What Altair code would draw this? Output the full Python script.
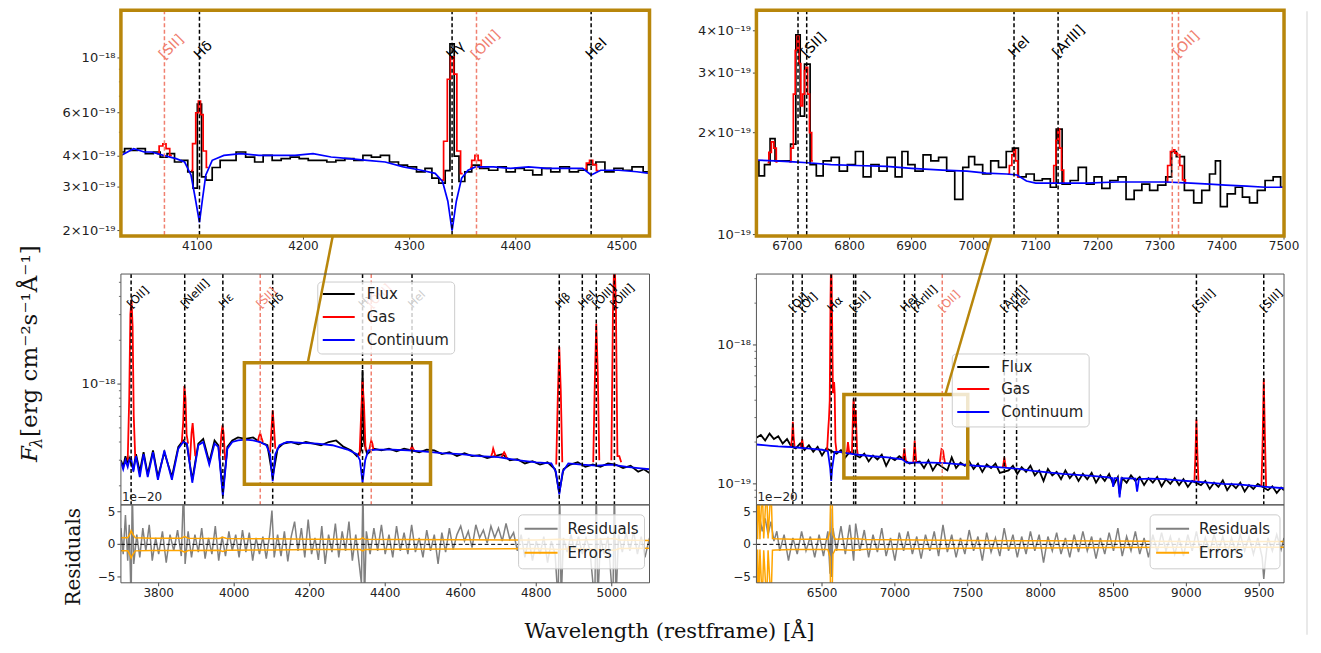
import math
import altair as alt
import pandas as pd

UNIT = 1e-19  # flux arrays below are in units of 1e-19 erg/cm2/s/A

# ---------------- LEFT INSET (4028-4526 A) ----------------
LI_FLUX_WL = [4028,4035,4040,4047,4055,4062,4068,4075,4082,4088,4094,4098,4102,4106,4110,4118,4125,4132,4141,4150,
              4158,4166,4175,4183,4192,4200,4209,4218,4226,4235,4243,4252,4260,4268,4277,4285,4294,4302,4311,4318,
              4324,4331,4336,4340,4344,4349,4355,4362,4370,4379,4387,4395,4404,4412,4420,4429,4437,4446,4455,4463,
              4471,4480,4488,4497,4505,4514,4526]
LI_FLUX_F = [4.16,4.29,4.22,4.29,4.10,4.16,3.97,4.10,3.79,3.85,3.46,2.97,6.5,3.3,3.2,3.6,3.85,3.85,4.16,3.97,
             3.79,4.03,3.85,3.91,3.97,3.91,3.85,3.85,3.79,3.85,3.91,3.85,4.03,3.97,4.03,3.79,3.68,3.62,3.46,3.57,
             3.26,3.11,3.5,11.4,4.0,3.16,3.46,3.68,3.57,3.51,3.62,3.46,3.57,3.51,3.36,3.57,3.46,3.62,3.46,3.51,
             3.7,3.79,3.46,3.57,3.51,3.62,3.46]
LI_CONT_WL = [4028,4040,4050,4057,4068,4080,4088,4094,4098,4102,4105,4108,4114,4125,4141,4158,4175,4192,4209,4226,
              4243,4260,4277,4294,4311,4324,4331,4336,4340,4344,4349,4355,4362,4379,4395,4412,4429,4446,4463,4471,
              4480,4497,4514,4526]
LI_CONT_F = [4.03,4.29,4.16,4.16,4.03,3.91,3.79,3.36,2.71,2.16,2.71,3.36,3.85,4.03,4.10,4.03,4.03,4.03,4.10,3.97,
             3.91,3.85,3.79,3.62,3.51,3.41,3.16,2.63,2.0,2.63,3.26,3.51,3.62,3.62,3.57,3.62,3.57,3.57,3.57,3.36,
             3.51,3.51,3.46,3.41]
LI_GAS_WL = [[4062,4066,4069,4072,4076],[4094,4097,4100,4102,4104,4107,4110],[4330,4334,4337,4340,4343,4346,4350],
             [4357,4360,4363,4366,4369],[4465,4468,4471,4474,4478]]
LI_GAS_F = [[4.10,4.40,4.49,4.29,4.03],[3.5,4.5,6.0,6.68,5.9,4.2,3.6],[3.2,4.6,8.2,10.1,8.6,4.2,3.4],
            [3.6,3.85,4.03,3.85,3.6],[3.55,3.75,3.85,3.7,3.5]]
LI_LINES = [4069, 4102, 4340, 4363, 4471]
LI_LCOL = ["s", "k", "k", "s", "k"]
LI_LLAB = ["[SII]", "Hδ", "Hγ", "[OIII]", "HeI"]

# ---------------- RIGHT INSET (6650-7500 A) ----------------
RI_FLUX_WL = [6650,6658,6668,6676,6684,6700,6710,6717,6724,6731,6742,6751,6764,6777,6790,6803,6816,6828,6841,6854,
              6867,6880,6889,6899,6912,6925,6937,6950,6963,6976,6989,6995,7008,7021,7034,7046,7059,7066,7078,7091,
              7104,7117,7130,7136,7149,7162,7175,7188,7200,7213,7226,7239,7252,7265,7277,7290,7303,7316,7322,7331,
              7348,7361,7374,7386,7393,7402,7415,7428,7438,7451,7463,7476,7489,7500]
RI_FLUX_F = [1.65,1.49,1.61,1.92,1.65,1.65,1.85,3.89,2.24,3.19,1.61,1.49,1.65,1.69,1.54,1.61,1.76,1.48,1.61,1.54,
             1.69,1.48,1.76,1.61,1.54,1.72,1.65,1.69,1.54,1.27,1.58,1.70,1.61,1.51,1.65,1.58,1.76,1.80,1.48,1.51,
             1.445,1.46,1.38,2.05,1.41,1.445,1.58,1.41,1.48,1.37,1.445,1.48,1.27,1.35,1.41,1.35,1.40,1.48,1.76,1.70,
             1.35,1.24,1.35,1.51,1.65,1.21,1.32,1.38,1.29,1.24,1.35,1.445,1.48,1.38]
RI_CONT_WL = [6650,6680,6710,6732,6770,6810,6860,6900,6950,6989,7020,7053,7070,7085,7100,7150,7181,7230,7270,7310,
              7350,7380,7406,7440,7470,7500]
RI_CONT_F = [1.66,1.65,1.64,1.63,1.61,1.60,1.59,1.57,1.55,1.54,1.52,1.51,1.50,1.44,1.42,1.42,1.42,1.43,1.43,1.43,
             1.42,1.41,1.40,1.39,1.38,1.38]
RI_GAS_WL = [[6668,6672,6676,6680,6684],[6703,6708,6711,6714,6717,6720,6723,6726,6729,6731,6734,6737,6741],
             [7055,7060,7063,7066,7069,7073],[7127,7131,7134,7137,7140,7143,7147],[7310,7315,7319,7322,7326,7330,7334,7339,7343]]
RI_GAS_F = [[1.63,1.75,1.88,1.80,1.64],[1.64,1.8,2.6,3.5,3.85,3.2,2.4,2.6,3.05,3.12,2.6,2.0,1.65],
            [1.51,1.6,1.72,1.78,1.65,1.48],[1.42,1.6,1.9,2.05,1.8,1.55,1.42],[1.43,1.6,1.76,1.78,1.74,1.72,1.6,1.45,1.42]]
RI_LINES = [6717, 6731, 7065, 7136, 7320, 7330]
RI_LCOL = ["k", "k", "k", "k", "s", "s"]
RI_LLAB = ["", "[SII]", "HeI", "[ArIII]", "", "[OII]"]

# ---------------- MAIN LEFT (3700-5100 A) ----------------
ML_FLUX_WL = [3700,3706,3712,3718,3722,3733,3740,3750,3760,3771,3785,3798,3815,3835,3852,3865,3875,3889,3905,3918,
              3934,3948,3958,3970,3982,3995,4010,4030,4050,4068,4088,4102,4115,4130,4150,4170,4190,4210,4230,4250,
              4270,4290,4310,4325,4336,4340,4344,4352,4370,4390,4410,4430,4450,4470,4490,4510,4530,4550,4570,4590,
              4610,4630,4650,4670,4690,4710,4730,4750,4770,4790,4810,4830,4850,4861,4872,4890,4910,4930,4950,4970,
              4990,5010,5030,5050,5070,5085,5100]
ML_FLUX_F = [3.0,2.7,3.2,2.8,3.1,2.6,3.3,2.5,3.4,2.4,3.5,2.3,3.4,2.3,3.7,4.1,3.8,2.2,3.9,4.2,
             2.9,4.1,3.8,1.8,3.7,4.1,4.3,4.2,4.3,4.0,3.8,2.3,3.6,3.9,4.0,3.85,4.0,3.9,3.8,4.0,
             4.1,3.7,3.5,3.2,3.5,12.5,4.0,3.3,3.6,3.5,3.6,3.45,3.6,3.5,3.4,3.55,3.5,3.3,3.4,3.2,
             3.35,3.2,3.25,3.1,3.2,3.3,3.0,3.05,2.85,2.95,2.8,2.9,2.6,1.8,2.6,2.8,2.9,2.7,2.8,2.7,
             2.85,2.8,2.65,2.75,2.5,2.6,2.45]
ML_CONT_WL = [3700,3706,3712,3718,3722,3727,3733,3740,3750,3760,3771,3785,3798,3815,3835,3852,3865,3875,3889,3905,
              3918,3934,3948,3958,3970,3982,3995,4010,4030,4050,4068,4085,4095,4102,4109,4120,4140,4180,4220,4260,
              4300,4325,4333,4340,4347,4355,4380,4420,4460,4500,4550,4600,4650,4700,4750,4800,4840,4852,4861,4870,
              4885,4920,4960,5000,5040,5070,5100]
ML_CONT_F = [2.9,2.6,3.0,2.7,3.0,3.1,2.5,3.2,2.3,3.3,2.3,3.4,2.2,3.5,2.2,3.6,4.0,3.9,2.1,3.8,
             4.0,2.8,3.9,3.7,1.7,3.6,4.0,4.1,4.15,4.1,4.0,3.8,3.3,2.15,3.3,3.8,4.0,3.95,3.9,3.8,
             3.55,3.3,3.0,2.1,3.0,3.5,3.55,3.55,3.5,3.45,3.35,3.3,3.2,3.15,3.0,2.9,2.85,2.5,1.75,2.5,
             2.85,2.8,2.75,2.8,2.7,2.65,2.6]
ML_GAS_WL = [[3718,3722,3725,3728,3731,3734,3738],[3861,3865,3868,3871,3874,3878],[3883,3887,3890,3893,3897],
             [3962,3966,3969,3972,3976],[4062,4066,4069,4072,4076],[4095,4099,4102,4105,4109],
             [4332,4336,4340,4344,4348],[4358,4361,4363,4366,4369],[4466,4469,4471,4474,4477],
             [4680,4684,4686,4689,4693],[4708,4712,4715,4718,4722],[4853,4857,4861,4865,4869],
             [4951,4955,4959,4963,4967],[4999,5003,5007,5011,5015,5020,5025]]
ML_GAS_F = [[3.0,8,30,38,25,6,3.1],[3.9,5.5,9.7,8.0,4.5,3.9],[3.0,4.6,5.4,4.3,3.2],
            [3.2,4.5,5.2,4.6,3.0],[4.0,4.4,4.6,4.3,4.0],[3.4,5.0,6.6,5.2,3.6],
            [3.2,6.0,10.5,7.0,3.5],[3.55,3.9,4.1,3.9,3.55],[3.5,3.65,3.75,3.6,3.5],
            [3.15,3.4,3.6,3.4,3.15],[3.12,3.3,3.4,3.3,3.1],[2.8,8,18,9,2.9],
            [2.9,10,26,12,3.0],[3.0,30,80,35,3.2,3.2,2.9]]
ML_LINES = [3727, 3869, 3970, 4069, 4102, 4340, 4363, 4471, 4861, 4922, 4959, 5007]
ML_LCOL = ["k", "k", "k", "s", "k", "k", "s", "k", "k", "k", "k", "k"]
ML_LLAB = ["[OII]", "[NeIII]", "Hε", "[SII]", "Hδ", "Hγ", "[OIII]", "HeI", "Hβ", "HeI", "[OIII]", "[OIII]"]
ML_RECT = [4027, 4520, 2.05e-19, 1.40e-18]
ML_CONN = [4195, 1.40e-18, 4261]

# ---------------- MAIN RIGHT (6050-9670 A) ----------------
MR_FLUX_WL = [6050,6080,6110,6140,6170,6200,6230,6260,6290,6320,6350,6380,6410,6440,6470,6500,6530,6600,6630,6660,
              6690,6760,6790,6820,6850,6880,6910,6940,6970,7000,7030,7100,7170,7200,7230,7260,7290,7360,7390,7420,
              7450,7480,7510,7540,7570,7600,7630,7660,7690,7720,7780,7810,7840,7870,7900,7930,7960,7990,8020,8050,
              8080,8110,8140,8170,8200,8230,8260,8290,8320,8350,8380,8410,8440,8470,8500,8530,8542,8560,8590,8620,
              8650,8680,8710,8740,8770,8800,8830,8860,8890,8920,8950,8980,9010,9040,9100,9130,9160,9190,9220,9250,
              9280,9310,9340,9370,9400,9430,9460,9490,9560,9590,9620,9650,9670]
MR_FLUX_F = [2.15,2.25,2.05,2.30,2.10,2.20,1.95,2.10,1.85,1.80,1.95,1.75,1.90,1.70,1.85,1.60,1.80,1.65,1.75,1.55,
             1.70,1.55,1.65,1.45,1.60,1.50,1.62,1.35,1.55,1.48,1.58,1.40,1.45,1.30,1.48,1.25,1.40,1.25,1.55,1.30,
             1.42,1.35,1.45,1.28,1.40,1.22,1.38,1.30,1.40,1.20,1.25,1.35,1.18,1.32,1.22,1.35,1.15,1.25,1.05,1.28,
             1.15,1.22,1.08,1.25,1.10,1.20,1.05,1.18,1.08,1.20,1.02,1.15,1.05,1.18,0.98,1.12,0.85,1.10,1.02,1.15,
             1.05,1.12,0.98,1.10,1.02,1.12,0.96,1.08,1.00,1.10,0.98,1.08,0.95,1.05,0.98,1.05,0.92,1.02,0.95,1.06,
             0.90,1.00,0.93,1.02,0.88,0.98,0.92,1.00,0.90,0.96,0.86,0.94,0.90]
MR_CONT_WL = [6050,6100,6150,6200,6250,6300,6350,6400,6450,6500,6540,6556,6563,6570,6586,6620,6680,6750,6850,6950,
              7050,7080,7150,7250,7350,7450,7550,7650,7750,7850,7950,8050,8150,8250,8350,8450,8490,8498,8506,8530,
              8542,8554,8650,8662,8674,8750,8850,8950,9050,9150,9250,9350,9450,9550,9670]
MR_CONT_F = [1.92,1.90,1.88,1.86,1.85,1.84,1.82,1.80,1.78,1.76,1.72,1.3,1.05,1.3,1.70,1.70,1.66,1.62,1.58,1.55,
             1.50,1.42,1.42,1.42,1.41,1.38,1.35,1.33,1.31,1.28,1.24,1.21,1.18,1.16,1.14,1.12,1.10,0.95,1.10,1.10,
             0.80,1.10,1.09,0.88,1.08,1.09,1.08,1.06,1.04,1.02,1.00,0.99,0.97,0.95,0.93]
MR_GAS_WL = [[6288,6295,6300,6305,6312],[6355,6360,6364,6368,6373],
             [6535,6543,6548,6553,6558,6563,6568,6575,6580,6583,6587,6592,6600],[6670,6675,6678,6682,6687],
             [6705,6710,6714,6717,6721,6724,6727,6731,6735,6740,6745],[7055,7060,7065,7070,7076],
             [7126,7131,7136,7141,7147],[7308,7314,7320,7326,7331,7337,7344],[7740,7746,7751,7756,7762],
             [9055,9062,9069,9076,9083],[9515,9523,9531,9539,9547]]
MR_GAS_F = [[1.85,2.2,2.8,2.2,1.84],[1.82,1.95,2.1,1.95,1.82],
            [1.74,2.5,3.0,4.0,20,50,20,4.5,5.0,5.4,4.5,2.0,1.70],[1.67,1.85,2.0,1.85,1.66],
            [1.64,2.5,3.6,4.1,3.4,2.6,3.1,3.4,2.6,1.8,1.62],[1.50,1.62,1.80,1.62,1.45],
            [1.42,1.7,2.05,1.7,1.42],[1.42,1.6,1.78,1.76,1.72,1.55,1.41],[1.31,1.42,1.55,1.42,1.31],
            [1.04,1.6,2.9,1.6,1.04],[0.95,2.0,5.7,2.2,0.95]]
MR_LINES = [6300, 6364, 6563, 6717, 6731, 7065, 7136, 7325, 7751, 7835, 9069, 9531]
MR_LCOL = ["k", "k", "k", "k", "k", "k", "k", "s", "k", "k", "k", "k"]
MR_LLAB = ["[OI]", "[OI]", "Hα", "[SII]", "", "HeI", "[ArIII]", "[OII]", "[ArIII]", "HeI", "[SIII]", "[SIII]"]
MR_RECT = [6650, 7500, 1.1e-19, 4.4e-19]
MR_CONN = [7346, 4.4e-19, 7662]

# ---------------- RESIDUALS (units of 1e-20) ----------------
RL_WL = [3700,3706,3712,3718,3722,3727,3730,3734,3742,3750,3758,3766,3775,3783,3792,3800,3810,3820,3830,3840,
         3850,3860,3866,3870,3878,3887,3896,3905,3914,3923,3932,3941,3950,3959,3968,3977,3986,3995,4004,4013,
         4022,4031,4040,4049,4058,4067,4076,4085,4094,4100,4106,4115,4124,4133,4142,4151,4160,4169,4178,4187,
         4196,4205,4214,4223,4232,4241,4250,4259,4268,4277,4286,4295,4304,4313,4322,4331,4337,4341,4345,4350,
         4360,4370,4380,4390,4400,4410,4420,4430,4440,4450,4460,4470,4480,4490,4500,4510,4520,4530,4540,4550,
         4560,4570,4580,4590,4600,4610,4620,4630,4640,4650,4660,4670,4680,4690,4700,4710,4720,4730,4740,4750,
         4760,4770,4780,4790,4800,4810,4820,4830,4840,4850,4858,4862,4866,4872,4882,4892,4902,4912,4922,4932,
         4942,4955,4959,4963,4970,4980,4990,5003,5007,5011,5018,5028,5038,5048,5058,5068,5078,5088,5100]
RL_R = [2.5,-1.5,4.5,-2.5,3.0,-9,9,-3,1.5,-2.0,2.5,-1.0,3.0,-2.5,1.0,-1.5,2.0,-2.8,1.5,-1.0,
        2.2,-1.8,9,-3,2.0,-2.0,1.5,-1.2,2.5,-2.2,1.0,-1.5,2.8,-2.5,1.2,-1.8,2.0,-1.0,1.5,-2.0,
        2.2,-1.2,1.8,-2.5,1.0,-1.5,1.2,-2.2,1.5,5.2,-2.0,1.5,-1.8,2.0,-2.6,1.2,3.5,-1.0,2.5,-2.0,
        3.8,-1.5,1.0,-2.4,2.8,-3.0,1.5,-1.2,3.2,-2.0,2.0,-1.0,3.5,-2.5,1.5,-3.0,-6,9,-9,2.0,
        -1.5,2.5,-1.0,3.0,-1.5,1.5,-2.0,2.8,-1.0,1.8,-1.5,3.0,-1.2,1.0,-2.0,2.2,-1.0,1.5,-3.0,1.8,
        -1.2,2.5,-0.8,1.5,2.8,0.5,2.0,-0.5,3.0,1.0,2.2,0.2,2.8,1.0,2.5,0.5,3.2,0.8,1.8,-1.0,
        1.5,-2.0,1.0,-2.5,0.5,-1.5,1.2,-2.8,0.5,-1.5,-9,9,-9,1.0,-1.2,1.5,-1.0,1.2,-1.5,1.0,
        -0.8,-9,9,-9,1.0,-1.5,1.2,-9,9,-9,1.5,-1.2,1.8,-1.0,2.0,-1.5,1.2,-2.0,1.0]
RL_ERR_WL = [3700,3718,3724,3727,3731,3738,3780,3860,3869,3878,3960,3970,3980,4100,4200,4334,4340,4346,4450,4600,
             4800,4861,4900,4959,5007,5020,5100]
RL_ERR = [1.0,1.0,1.6,2.1,1.6,1.0,0.95,0.95,1.2,0.95,0.9,1.1,0.9,0.85,0.8,0.8,1.0,0.8,0.75,0.7,
          0.65,0.8,0.65,0.75,0.9,0.65,0.6]
RR_WL = [6050,6070,6090,6110,6130,6150,6170,6190,6210,6240,6270,6300,6330,6360,6390,6420,6450,6480,6510,6540,
         6555,6560,6566,6575,6600,6630,6660,6690,6717,6731,6760,6790,6820,6850,6880,6910,6940,6970,7000,7030,
         7060,7090,7120,7150,7180,7210,7240,7270,7300,7330,7360,7390,7420,7450,7480,7510,7540,7570,7600,7630,
         7660,7690,7720,7750,7780,7810,7840,7870,7900,7930,7960,7990,8020,8050,8080,8110,8140,8170,8200,8230,
         8260,8290,8320,8350,8380,8410,8440,8470,8500,8530,8560,8590,8620,8650,8680,8710,8740,8770,8800,8830,
         8860,8890,8920,8950,8980,9010,9040,9069,9100,9130,9160,9190,9220,9250,9280,9310,9340,9370,9400,9430,
         9460,9490,9520,9531,9540,9560,9590,9620,9650,9670]
RR_R = [3.0,4.5,2.0,4.0,1.5,3.5,0.5,2.0,-1.0,1.5,-2.5,1.0,-1.5,2.0,-1.0,1.2,-2.0,1.5,-1.8,2.0,
        -4.5,5.5,-5.0,2.5,-1.0,2.8,-1.5,3.0,-2.5,3.2,-1.0,2.2,-2.0,1.5,-1.2,2.5,-1.8,1.0,-2.5,1.8,
        -1.0,2.0,-1.5,1.2,-2.2,1.5,-1.0,2.0,-1.8,3.0,-1.2,1.5,-2.0,1.0,-1.5,2.2,-1.0,1.2,-2.5,1.8,
        -1.2,1.0,-1.8,2.5,-1.0,1.5,-2.0,1.2,-1.5,2.0,-1.0,1.5,-2.8,1.2,-1.0,1.8,-1.5,1.0,-2.0,1.5,
        -1.2,2.0,-1.0,1.2,-2.2,1.0,-1.5,1.8,-1.0,2.5,-1.8,1.2,-1.0,2.0,-1.5,1.0,-2.0,1.5,-1.2,1.8,
        -1.0,1.2,-1.5,1.0,-1.8,1.5,-1.0,2.0,-1.5,1.0,-1.2,1.5,-1.0,1.2,-1.5,1.0,-1.2,1.5,-1.0,1.2,
        -1.5,1.0,-2.0,-5.3,-3.0,1.0,-1.0,1.5,-0.8,1.0]
RR_ERR_WL = [6050,6058,6066,6074,6090,6100,6120,6130,6150,6160,6180,6300,6540,6555,6560,6568,6575,6590,6717,6800,
             7000,7500,8000,8500,9000,9500,9670]
RR_ERR = [9,0.8,9,0.8,9,0.9,9,0.9,9,0.9,0.85,0.8,0.8,2.0,9,9,1.5,0.8,0.9,0.75,
          0.7,0.6,0.55,0.5,0.45,0.45,0.45]

# ---------------- tick values / labels / legend text ----------------
LI_YT = [2e-19, 3e-19, 4e-19, 6e-19, 1e-18]
LI_YL = ["2×10⁻¹⁹", "3×10⁻¹⁹", "4×10⁻¹⁹", "6×10⁻¹⁹", "10⁻¹⁸"]
LI_YM = [5e-19, 7e-19, 8e-19, 9e-19]
RI_YT = [1e-19, 2e-19, 3e-19, 4e-19]
RI_YL = ["10⁻¹⁹", "2×10⁻¹⁹", "3×10⁻¹⁹", "4×10⁻¹⁹"]
ML_YT = [1e-18]
ML_YL = ["10⁻¹⁸"]
ML_YM = [2e-19, 3e-19, 4e-19, 5e-19, 6e-19, 7e-19, 8e-19, 9e-19, 2e-18, 3e-18, 4e-18, 5e-18]
MR_YT = [1e-19, 1e-18]
MR_YL = ["10⁻¹⁹", "10⁻¹⁸"]
MR_YM = [8e-20, 9e-20, 2e-19, 3e-19, 4e-19, 5e-19, 6e-19, 7e-19, 8e-19, 9e-19, 2e-18, 3e-18]
LI_XT = [4100, 4200, 4300, 4400, 4500]
RI_XT = [6700, 6800, 6900, 7000, 7100, 7200, 7300, 7400, 7500]
RL_XT = [3800, 4000, 4200, 4400, 4600, 4800, 5000]
RR_XT = [6500, 7000, 7500, 8000, 8500, 9000, 9500]
RES_YT = [-5, 0, 5]
RES_YL = ["−5", "0", "5"]
LEG_SPEC = ["Flux", "Gas", "Continuum"]
LEG_SPEC_COL = ["black", "red", "blue"]
LEG_RES = ["Residuals", "Errors"]
LEG_RES_COL = ["gray", "orange"]

# ---------------- styling ----------------
ONE = pd.DataFrame({"k": [0]})
FONT = "DejaVu Sans"
SERIF = "DejaVu Serif"
GOLD = "#b8860b"
FRAME = "#555555"
SALMON = "#f08070"
TICK = "#333333"
LABEL = "#222222"
CMAP = {"k": "black", "s": SALMON}
WL_, WR_ = 529, 528
H_IN, GAP, H_MAIN, H_RES = 226, 38, 231, 78


def frame(W, H, color, width):
    return alt.Chart(ONE).mark_rect(fillOpacity=0, stroke=color, strokeWidth=width).encode(
        x=alt.value(0), x2=alt.value(W), y=alt.value(0), y2=alt.value(H))


def y_ticks(ys, field_vals, labs, size, minor=None):
    df = pd.DataFrame({"v": field_vals, "t": labs})
    out = [
        alt.Chart(df).mark_rule(color=TICK, strokeWidth=0.9).encode(
            y=alt.Y("v:Q", scale=ys, axis=None), x=alt.value(-3.5), x2=alt.value(0)),
        alt.Chart(df).mark_text(align="right", baseline="middle", fontSize=size, font=FONT,
                                color=LABEL).encode(
            y=alt.Y("v:Q", scale=ys, axis=None), x=alt.value(-5.5), text="t:N"),
    ]
    if minor:
        out.append(alt.Chart(pd.DataFrame({"v": minor})).mark_rule(color=TICK, strokeWidth=0.7).encode(
            y=alt.Y("v:Q", scale=ys, axis=None), x=alt.value(-2), x2=alt.value(0)))
    return out


def x_ticks(xs, vals, H, size):
    df = pd.DataFrame({"v": vals, "t": [str(v) for v in vals]})
    return [
        alt.Chart(df).mark_rule(color=TICK, strokeWidth=0.9).encode(
            x=alt.X("v:Q", scale=xs, axis=None), y=alt.value(H), y2=alt.value(H + 3.5)),
        alt.Chart(df).mark_text(align="center", baseline="top", fontSize=size, font=FONT,
                                color=LABEL).encode(
            x=alt.X("v:Q", scale=xs, axis=None), y=alt.value(H + 5), text="t:N"),
    ]


def seg_df(wls, fs):
    rows = []
    for i, (w, f) in enumerate(zip(wls, fs)):
        for a, b in zip(w, f):
            rows.append({"wl": a, "f": b * UNIT, "seg": i})
    return pd.DataFrame(rows)


def spectrum_layers(H, xdom, ydom, fwl, ff, gwl, gf, cwl, cf, lines, lcol, llab,
                    lab_y, lab_size, lw, interp, yrange=None):
    xs = alt.Scale(domain=xdom, nice=False, zero=False)
    if yrange:
        ys = alt.Scale(type="log", domain=ydom, nice=False, range=yrange)
    else:
        ys = alt.Scale(type="log", domain=ydom, nice=False)
    fdf = pd.DataFrame({"wl": fwl, "f": [v * UNIT for v in ff]})
    cdf = pd.DataFrame({"wl": cwl, "f": [v * UNIT for v in cf]})
    gdf = seg_df(gwl, gf)
    ldf = pd.DataFrame({"wl": lines, "c": [CMAP[c] for c in lcol], "t": llab})
    tdf = ldf[ldf["t"] != ""]
    X = alt.X("wl:Q", scale=xs, axis=None)
    Y = alt.Y("f:Q", scale=ys, axis=None)
    flux = alt.Chart(fdf).mark_line(color="black", strokeWidth=lw, interpolate=interp[0], clip=True).encode(x=X, y=Y)
    gas = alt.Chart(gdf).mark_line(color="red", strokeWidth=lw, interpolate=interp[1], clip=True).encode(
        x=X, y=Y, detail="seg:N")
    cont = alt.Chart(cdf).mark_line(color="blue", strokeWidth=lw, interpolate=interp[2], clip=True).encode(x=X, y=Y)
    rules = alt.Chart(ldf).mark_rule(strokeDash=[4, 2.5], strokeWidth=1.5).encode(
        x=X, y=alt.value(0), y2=alt.value(H), color=alt.Color("c:N", scale=None))
    labels = alt.Chart(tdf).mark_text(angle=315, align="left", baseline="bottom", dx=3,
                                      fontSize=lab_size, font=FONT).encode(
        x=X, y=alt.value(lab_y), text="t:N", color=alt.Color("c:N", scale=None))
    return [flux, gas, cont, rules, labels], xs, ys


def legend(box, lx0, lx1, tx, ys_, labs, cols):
    out = [alt.Chart(ONE).mark_rect(fill="white", fillOpacity=0.8, stroke="#cccccc", strokeWidth=1,
                                    cornerRadius=4).encode(
        x=alt.value(box[0]), x2=alt.value(box[2]), y=alt.value(box[1]), y2=alt.value(box[3]))]
    for lab, col, yy in zip(labs, cols, ys_):
        out.append(alt.Chart(ONE).mark_rule(color=col, strokeWidth=2).encode(
            x=alt.value(lx0), x2=alt.value(lx1), y=alt.value(yy)))
        out.append(alt.Chart(ONE).mark_text(text=lab, align="left", baseline="middle", fontSize=15,
                                            font=FONT, color=LABEL).encode(
            x=alt.value(tx), y=alt.value(yy)))
    return out


def zoom_marks(xs, ys, rect, conn, conn_top):
    rdf = pd.DataFrame({"x1": [rect[0]], "x2": [rect[1]], "y1": [rect[2]], "y2": [rect[3]]})
    r = alt.Chart(rdf).mark_rect(fillOpacity=0, stroke=GOLD, strokeWidth=3.5).encode(
        x=alt.X("x1:Q", scale=xs, axis=None), x2="x2:Q",
        y=alt.Y("y1:Q", scale=ys, axis=None), y2="y2:Q")
    cdf = pd.DataFrame({"x1": [conn[0]], "y1": [conn[1]], "x2": [conn[2]]})
    c = alt.Chart(cdf).mark_rule(color=GOLD, strokeWidth=2.5).encode(
        x=alt.X("x1:Q", scale=xs, axis=None), y=alt.Y("y1:Q", scale=ys, axis=None),
        x2="x2:Q", y2=alt.value(conn_top))
    return r, c


INSET_INTERP = ("step", "step", "linear")
MAIN_INTERP = ("linear", "linear", "linear")

# ---------- insets (cell is H_IN + GAP tall; plot uses top H_IN px) ----------
li_layers, lix, liy = spectrum_layers(H_IN, [4028, 4526], [1.9e-19, 1.56e-18],
                                      LI_FLUX_WL, LI_FLUX_F, LI_GAS_WL, LI_GAS_F, LI_CONT_WL, LI_CONT_F,
                                      LI_LINES, LI_LCOL, LI_LLAB, 54, 14, 1.7, INSET_INTERP, yrange=[H_IN, 0])
inset_l = alt.layer(*li_layers, *y_ticks(liy, LI_YT, LI_YL, 13, LI_YM), *x_ticks(lix, LI_XT, H_IN, 12),
                    frame(WL_, H_IN, GOLD, 3.5)).properties(width=WL_, height=H_IN + GAP)

ri_layers, rix, riy = spectrum_layers(H_IN, [6650, 7500], [0.99e-19, 4.6e-19],
                                      RI_FLUX_WL, RI_FLUX_F, RI_GAS_WL, RI_GAS_F, RI_CONT_WL, RI_CONT_F,
                                      RI_LINES, RI_LCOL, RI_LLAB, 52, 14, 1.7, INSET_INTERP, yrange=[H_IN, 0])
inset_r = alt.layer(*ri_layers, *y_ticks(riy, RI_YT, RI_YL, 13), *x_ticks(rix, RI_XT, H_IN, 12),
                    frame(WR_, H_IN, GOLD, 3.5)).properties(width=WR_, height=H_IN + GAP)

# ---------- main panels ----------
ml_layers, mlx, mly = spectrum_layers(H_MAIN, [3700, 5100], [1.48e-19, 5.7e-18],
                                      ML_FLUX_WL, ML_FLUX_F, ML_GAS_WL, ML_GAS_F, ML_CONT_WL, ML_CONT_F,
                                      ML_LINES, ML_LCOL, ML_LLAB, 38, 11.5, 1.8, MAIN_INTERP)
ml_rect, ml_conn = zoom_marks(mlx, mly, ML_RECT, ML_CONN, -GAP)
title_parts = [
    alt.Chart(ONE).mark_text(text="F", angle=270, align="left", baseline="alphabetic", fontSize=23,
                             font=SERIF, fontStyle="italic", color="#111111").encode(
        x=alt.value(-84), y=alt.value(188)),
    alt.Chart(ONE).mark_text(text="λ", angle=270, align="left", baseline="alphabetic", fontSize=16,
                             font=SERIF, fontStyle="italic", color="#111111").encode(
        x=alt.value(-79), y=alt.value(174)),
    alt.Chart(ONE).mark_text(text="[erg cm⁻²s⁻¹Å⁻¹]", angle=270, align="left", baseline="alphabetic",
                             fontSize=23, font=SERIF, color="#111111").encode(
        x=alt.value(-84), y=alt.value(163)),
    alt.Chart(ONE).mark_rule(strokeOpacity=0, strokeWidth=1).encode(
        x=alt.value(-108), y=alt.value(100), y2=alt.value(110)),
]
main_l = alt.layer(*ml_layers, *y_ticks(mly, ML_YT, ML_YL, 13, ML_YM), ml_rect,
                   *legend([197, 8, 334, 80], 202, 234, 246, [20, 43, 66], LEG_SPEC, LEG_SPEC_COL),
                   ml_conn, *title_parts, frame(WL_, H_MAIN, FRAME, 1)).properties(width=WL_, height=H_MAIN)

mr_layers, mrx, mry = spectrum_layers(H_MAIN, [6050, 9670], [7.06e-20, 3.24e-18],
                                      MR_FLUX_WL, MR_FLUX_F, MR_GAS_WL, MR_GAS_F, MR_CONT_WL, MR_CONT_F,
                                      MR_LINES, MR_LCOL, MR_LLAB, 42, 11.5, 1.8, MAIN_INTERP)
mr_rect, mr_conn = zoom_marks(mrx, mry, MR_RECT, MR_CONN, -GAP + 1)
main_r = alt.layer(*mr_layers, *y_ticks(mry, MR_YT, MR_YL, 13, MR_YM), mr_rect,
                   *legend([196, 80, 333, 153], 201, 233, 245, [93, 115, 138], LEG_SPEC, LEG_SPEC_COL),
                   mr_conn, frame(WR_, H_MAIN, FRAME, 1)).properties(width=WR_, height=H_MAIN)


# ---------- residual panels ----------
def residual_layers(W, H, xdom, wl, r, ewl, e, xt):
    xs = alt.Scale(domain=xdom, nice=False, zero=False)
    ys = alt.Scale(domain=[-5.9, 6.06], nice=False, zero=False)
    rdf = pd.DataFrame({"wl": wl, "r": r})
    edf = pd.DataFrame({"wl": ewl, "e": e, "ne": [-v for v in e]})
    X = alt.X("wl:Q", scale=xs, axis=None)
    res = alt.Chart(rdf).mark_line(color="gray", strokeWidth=1.5, clip=True).encode(
        x=X, y=alt.Y("r:Q", scale=ys, axis=None))
    up = alt.Chart(edf).mark_line(color="orange", strokeWidth=1.5, clip=True).encode(
        x=X, y=alt.Y("e:Q", scale=ys, axis=None))
    lo = alt.Chart(edf).mark_line(color="orange", strokeWidth=1.5, clip=True).encode(
        x=X, y=alt.Y("ne:Q", scale=ys, axis=None))
    zero = alt.Chart(pd.DataFrame({"z": [0]})).mark_rule(color="black", strokeDash=[4, 2.5],
                                                          strokeWidth=1).encode(
        y=alt.Y("z:Q", scale=ys, axis=None), x=alt.value(0), x2=alt.value(W))
    off = alt.Chart(ONE).mark_text(text="1e−20", align="left", baseline="bottom", fontSize=12,
                                   font=FONT, color=LABEL).encode(x=alt.value(1), y=alt.value(-1))
    return [res, up, lo, zero, off, *y_ticks(ys, RES_YT, RES_YL, 12), *x_ticks(xs, xt, H, 12)]


rl = residual_layers(WL_, H_RES, [3700, 5100], RL_WL, RL_R, RL_ERR_WL, RL_ERR, RL_XT)
res_l = alt.layer(
    *rl,
    *legend([398, 10, 524, 64], 404, 437, 447, [24, 48], LEG_RES, LEG_RES_COL),
    alt.Chart(ONE).mark_text(text="Residuals", angle=270, align="center", baseline="alphabetic",
                             fontSize=20, font=SERIF, color="#111111").encode(
        x=alt.value(-41), y=alt.value(52)),
    alt.Chart(ONE).mark_text(text="Wavelength (restframe) [Å]", align="center", baseline="middle",
                             fontSize=21, font=SERIF, color="#111111").encode(
        x=alt.value(549), y=alt.value(127)),
    frame(WL_, H_RES, FRAME, 1)).properties(width=WL_, height=H_RES)

rr = residual_layers(WR_, H_RES, [6050, 9670], RR_WL, RR_R, RR_ERR_WL, RR_ERR, RR_XT)
res_r = alt.layer(
    *rr,
    *legend([394, 10, 524, 64], 400, 433, 443, [24, 48], LEG_RES, LEG_RES_COL),
    alt.Chart(ONE).mark_rule(color="#e2e2e2", strokeWidth=1.5).encode(
        x=alt.value(551), y=alt.value(-494), y2=alt.value(130)),
    frame(WR_, H_RES, FRAME, 1)).properties(width=WR_, height=H_RES)

# ---------- layout: one flat 2-column grid ----------
chart = alt.concat(inset_l, inset_r, main_l, main_r, res_l, res_r, columns=2,
                   spacing={"row": 0, "column": 107}, bounds="flush").properties(
    padding={"left": 5, "top": 0, "right": 5, "bottom": 5}, background="white"
).configure_view(strokeWidth=0)

chart.save("out.html", embed_options={"renderer": "svg", "actions": False})
